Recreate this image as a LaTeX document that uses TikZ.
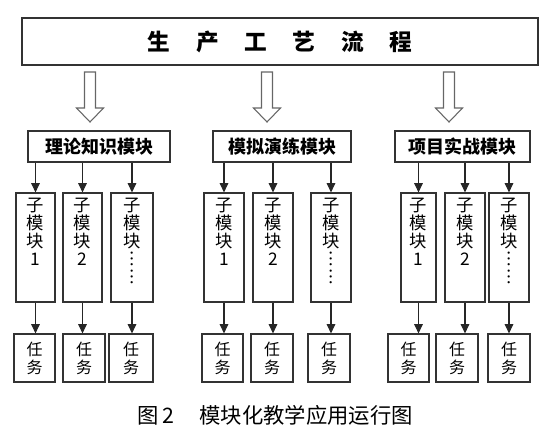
\documentclass[tikz,border=0pt]{standalone}
\usepackage{fontspec}
\setmainfont{Noto Sans CJK SC}
\usetikzlibrary{arrows.meta,positioning}

\begin{document}
\begin{tikzpicture}[
  x=0.75pt, y=-0.75pt,
  box/.style={draw=black!80, line width=0.9pt, inner sep=0pt},
  topbox/.style={box, minimum width=387pt, minimum height=35.25pt,
                 font=\fontsize{17}{20}\selectfont\bfseries},
  modbox/.style={box, minimum height=23.25pt, font=\fontsize{13.5}{16}\selectfont\bfseries},
  subbox/.style={box, minimum height=81.75pt, minimum width=#1},
  subbox/.default=30pt,
  subtext/.style={inner sep=0pt, align=center, font=\fontsize{13}{13.5}\selectfont},
  taskbox/.style={box, minimum height=36pt, minimum width=#1, align=center,
                  font=\fontsize{12}{13.5}\selectfont},
  taskbox/.default=31.5pt,
  hollow/.style={draw=black!60, line width=0.8pt, line join=miter},
  arrow/.style={-{Triangle[length=7pt,width=6.5pt]}, line width=0.8pt, draw=black!85},
]
\useasboundingbox (0,0) rectangle (546,430);

% Top: process flow
\node[topbox] (top) at (280,41.5)
  {生\hspace{1.13em}产\hspace{1.13em}工\hspace{1.13em}艺\hspace{1.13em}流\hspace{1.13em}程};

% Hollow arrows down to the three modules
\foreach \n/\x in {1/90,2/267,3/449} {
  \coordinate (h\n) at (\x,72);
  \draw[hollow] (h\n) ++(-5.5,0) -- ++(0,36) -- ++(-8,0) -- (\x,122)
    -- ++(13.5,-14) -- ++(-8,0) -- ++(0,-36) -- cycle;
}

% Row 2: modules
\node[modbox, minimum width=106.5pt] (m1) at (99,146.5) {理论知识模块};
\node[modbox, minimum width=103.5pt] (m2) at (282,146.5) {模拟演练模块};
\node[modbox, minimum width=101.25pt] (m3) at (462.5,146.5) {项目实战模块};

% Row 3: sub-modules
\foreach \n/\x/\w in {11/35.5/29.25pt, 12/82.5/29.25pt, 13/132/31.5pt,
                      21/224/30pt, 22/273/30pt, 23/331/30pt,
                      31/418.5/26.25pt, 32/465/30pt, 33/509/30pt}
  \node[subbox=\w] (s\n) at (\x,247.5) {};

\foreach \n/\d in {11/1,12/2,21/1,22/2,31/1,32/2}
  \node[subtext, below=4pt of s\n.north] (l\n) {子\\模\\块\\\d};
\foreach \n in {13,23,33}
  \node[subtext, below=4pt of s\n.north] (l\n) {子\\模\\块\\︙\\︙};

% Row 4: tasks
\foreach \n/\x/\w in {11/34.5/30.75pt, 12/84/31.5pt, 13/131/33pt,
                      21/222.5/30.75pt, 22/272/31.5pt, 23/329/31.5pt,
                      31/408.5/30.75pt, 32/457/31.5pt, 33/509/31.5pt}
  \node[taskbox=\w] (t\n) at (\x,358) {任\\务};

% Arrows
\foreach \m in {1,2,3}
  \foreach \k in {1,2,3} {
    \draw[arrow] (m\m.south -| s\m\k.north) -- (s\m\k.north);
    \draw[arrow] (s\m\k.south) -- (s\m\k.south |- t\m\k.north);
  }

% Caption
\node[font=\fontsize{16}{18}\selectfont] (cap) at (275,415)
  {图\,2\hspace{1.2em}模块化教学应用运行图};
\end{tikzpicture}
\end{document}
